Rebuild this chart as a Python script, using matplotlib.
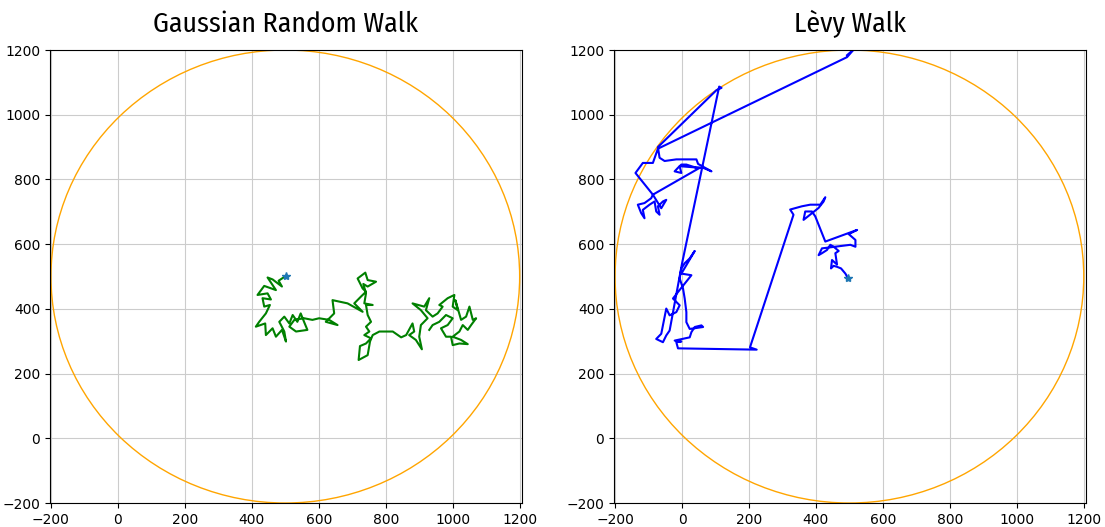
import numpy as np
import matplotlib.pyplot as plt

# 設定
CENTER = (500, 500)
RADIUS = 700
TITLE_FONT = ['Fira Sans Condensed', 'Barlow Condensed', 'Asap Condensed', 'DejaVu Sans']

# Gaussian random walk
gauss_x = [502, 480, 490, 462, 447, 472, 437, 417, 447, 457, 432, 437, 454, 442, 422, 412,
           440, 442, 462, 472, 490, 502, 497, 482, 497, 512, 522, 536, 546, 556, 566, 532,
           512, 527, 556, 581, 601,
           631, 656, 621, 646, 641, 686, 731, 706, 726, 741, 731, 716, 739, 746, 771, 746,
           733, 741, 736, 761, 741, 746, 756, 741, 751, 736, 756, 741, 723, 719, 746, 753,
           761, 781, 821, 846, 861,
           880, 885, 870, 890, 908, 900, 905, 925, 905, 880, 915, 930, 920, 940, 955, 970,
           960, 985, 1005, 1000, 1015, 1008, 1025, 1040, 1050, 1060, 1070, 1055, 1045, 1030,
           1020, 1000, 1025, 1045, 1020, 1000, 995, 980, 965, 985, 1000, 980, 960, 940, 930]
gauss_y = [502, 487, 469, 491, 497, 458, 471, 443, 448, 429, 433, 407, 412, 386, 360, 345,
           355, 319, 340, 314, 335, 299, 330, 360, 376, 355, 381, 360, 386, 360, 335, 330,
           345, 366, 371, 366, 371,
           366, 350, 360, 386, 427, 417, 391, 417, 438, 453, 463, 494, 512, 489, 484, 469,
           477, 448, 417, 412, 412, 381, 360, 345, 330, 319, 309, 293, 285, 242, 257, 299,
           319, 330, 330, 312, 319,
           355, 330, 319, 304, 275, 314, 350, 371, 396, 417, 407, 433, 396, 376, 386, 407,
           412, 433, 443, 407, 396, 427, 366, 376, 407, 366, 371, 350, 335, 350,
           330, 314, 304, 291, 293, 288, 314, 314, 340, 350, 371, 381, 360, 350, 335]

# Lèvy walk
levy_x = [495, 488, 475, 463, 453, 445, 448, 463, 458, 468, 453, 443, 433, 418, 408, 418,
          503, 518, 518, 498, 523, 428, 418, 408, 398, 388, 368, 363, 408, 423, 428, 413,
          383, 358, 323, 333, 328,
          203, 223, -12, -17, -2, -22, 23, 28, 38, 58, 63, 23, 13, 13, 8, 3, -7, -2, 8, 23,
          38, 13, -2, 28, -12, -27, -7, -17, -37, -47, -52, -62, -77, -57, -47, -37, 0,
          111, 118, 103, -72, -67, -52, -17, 43, 48, 88, 63, 43, 13, -2, -12, -22, -2, -7, 53,
          -87, -92, -112, -132, -122, -112, -117, -97, -82, -77, -67, -72, -57, -47, -62, -87,
          -139, -117, -87, -72, 493, 514, 493]
levy_y = [496, 509, 525, 530, 533, 525, 551, 537, 572, 579, 592, 598, 582, 572, 566, 587,
          598, 592, 613, 631, 644, 608, 634, 660, 686, 701, 701, 675, 712, 732, 745, 722,
          722, 717, 707, 691, 675,
          281, 274, 278, 297, 299, 302, 312, 328, 344, 349, 344, 338, 359, 390, 432, 463, 494, 525, 541, 556,
          579, 535, 509, 504, 452, 432, 411, 390, 380, 401, 375, 323, 307, 297, 318, 333, 540,
          1087, 1083, 1076, 900, 867, 857, 862, 862, 848, 825, 836, 836, 846, 846, 836, 825, 820, 841, 836,
          753, 742, 727, 722, 696, 680, 706, 722, 732, 701, 691, 717, 732, 737, 711, 753,
          820, 851, 851, 895, 1178, 1203, 1184]

walks = [
    ("Gaussian Random Walk", gauss_x, gauss_y, "green"),
    ("Lèvy Walk", levy_x, levy_y, "blue"),
]

fig = plt.figure(figsize=(11.05, 5.27), dpi=100)
lefts = [0.0452, 0.5557]
for (title, xs, ys, color), left in zip(walks, lefts):
    ax = fig.add_axes([left, 0.0455, 0.4272, 0.8596])
    ax.add_patch(plt.Circle(CENTER, RADIUS, fill=False, color="orange", linewidth=1))
    ax.plot(xs, ys, color=color, linewidth=1.5)
    ax.plot(xs[0], ys[0], marker="*", color="#1f77b4", markersize=6, linestyle="none")
    ax.set_xlim(-203, 1207)
    ax.set_ylim(-200, 1200)
    ax.set_xticks(np.arange(-200, 1201, 200))
    ax.set_yticks(np.arange(-200, 1201, 200))
    ax.grid(True, color="#cccccc", linewidth=0.8)
    ax.set_axisbelow(True)
    ax.set_title(title, fontsize=20, family=TITLE_FONT, pad=13)

fig.savefig("out.png", dpi=100)
